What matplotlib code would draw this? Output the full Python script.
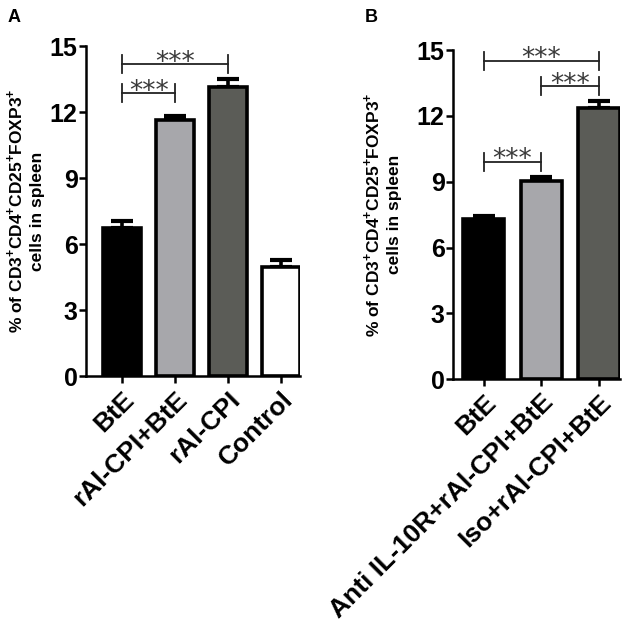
import numpy as np
import matplotlib.pyplot as plt

plt.rcParams['font.family'] = ['Liberation Sans', 'DejaVu Sans']
plt.rcParams['mathtext.fontset'] = 'custom'
plt.rcParams['mathtext.rm'] = 'Liberation Sans:bold'
plt.rcParams['mathtext.bf'] = 'Liberation Sans:bold'

# Panel A
labels_a = ['BtE', 'rAl-CPI+BtE', 'rAl-CPI', 'Control']
means_a = [6.75, 11.65, 13.15, 4.97]
errs_a = [0.3, 0.18, 0.35, 0.3]
colors_a = ['#000000', '#a7a7ab', '#5b5c57', '#ffffff']
sig_a = [(0, 2, 14.18), (0, 1, 12.86)]

# Panel B
labels_b = ['BtE', 'Anti IL-10R+rAl-CPI+BtE', 'Iso+rAl-CPI+BtE']
means_b = [7.3, 9.05, 12.35]
errs_b = [0.15, 0.15, 0.32]
colors_b = ['#000000', '#a7a7ab', '#5b5c57']
sig_b = [(0, 2, 14.5), (1, 2, 13.35), (0, 1, 9.9)]

ylabel = r'% of CD3$^{+}$CD4$^{+}$CD25$^{+}$FOXP3$^{+}$' + '\ncells in spleen'

fig = plt.figure(figsize=(6.3, 6.33), dpi=100)
ax_a = fig.add_axes([0.1365, 0.406, 0.34, 0.521])
ax_b = fig.add_axes([0.719, 0.401, 0.265, 0.52])


def draw_panel(ax, labels, means, errs, colors, sigs, xlim, label_x):
    x = np.arange(len(labels))
    ax.bar(x, means, width=0.72, color=colors, edgecolor='black', linewidth=2.6, zorder=2)
    ax.errorbar(x, means, yerr=[np.zeros(len(errs)), errs], fmt='none', ecolor='black',
                elinewidth=2.6, capsize=8, capthick=3, zorder=1)
    for i, j, y in sigs:
        ax.plot([x[i], x[j]], [y, y], color='#222222', lw=1.3, clip_on=False)
        ax.plot([x[i], x[i]], [y + 0.4, y - 0.4], color='#222222', lw=1.3, clip_on=False)
        ax.plot([x[j], x[j]], [y + 0.4, y - 0.4], color='#222222', lw=1.3, clip_on=False)
        ax.text((x[i] + x[j]) / 2, y - 0.25, '***', ha='center', va='baseline',
                fontsize=19, color='#3a3a3a', family='DejaVu Sans')
    ax.set_xlim(*xlim)
    ax.set_ylim(0, 15)
    ax.set_yticks([0, 3, 6, 9, 12, 15])
    ax.set_xticks(x)
    ax.set_xticklabels(labels, rotation=45, ha='right', rotation_mode='anchor',
                       fontsize=19, fontweight='bold')
    for t in ax.get_yticklabels():
        t.set_fontsize(18)
        t.set_fontweight('bold')
    for s in ['top', 'right']:
        ax.spines[s].set_visible(False)
    for s in ['left', 'bottom']:
        ax.spines[s].set_linewidth(1.8)
    ax.tick_params(width=1.8, length=5, pad=1)
    ax.tick_params(axis='x', pad=3)
    ax.set_ylabel(ylabel, fontsize=12.5, fontweight='bold', linespacing=1.45)
    ax.yaxis.set_label_coords(label_x, 0.5)


draw_panel(ax_a, labels_a, means_a, errs_a, colors_a, sig_a, (-0.685, 3.37), -0.19)
draw_panel(ax_b, labels_b, means_b, errs_b, colors_b, sig_b, (-0.53, 2.36), -0.305)

fig.text(0.012, 0.985, 'A', fontsize=13, fontweight='bold', va='top')
fig.text(0.579, 0.985, 'B', fontsize=13, fontweight='bold', va='top')

fig.savefig('out.png', dpi=100)
